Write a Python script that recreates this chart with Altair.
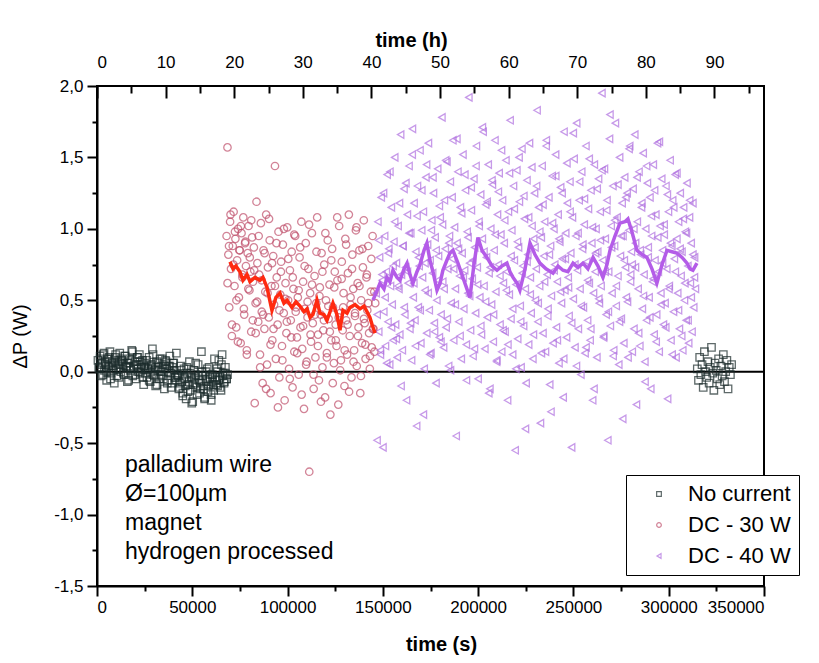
import altair as alt
import numpy as np
import pandas as pd

T_MAX = 350000
H_MAX = T_MAX / 3600.0
FONT = "Liberation Sans"

series_names = ["No current", "DC - 30 W", "DC - 40 W"]
series_colors = ["#1c2c2c", "#c0506c", "#b070e0"]
series_shapes = ["square", "circle", "triangle-left"]

# ---- No current, before heating (time span in s, values in W) ----
nc_left_span = [500, 68500]
nc_left = [0.08, 0.02, 0.11, -0.03, 0.06, 0.12, 0.01, 0.05, -0.06, 0.09, 0.03, 0.14, -0.01, 0.07, 0.04,
           -0.08, 0.10, 0.02, 0.06, -0.04, 0.13, 0.00, 0.08, 0.05, -0.02, 0.11, 0.03, -0.07, 0.06, 0.09,
           0.01, 0.15, -0.03, 0.04, 0.07, -0.05, 0.10, 0.02, 0.12, -0.01, 0.05, 0.08, -0.09, 0.03,
           0.06, -0.04, 0.02, 0.10, -0.07, 0.04, 0.16, -0.02, 0.01, -0.10, 0.07, 0.03, -0.05, 0.09, 0.00,
           -0.03, 0.05, -0.12, 0.08, 0.02, -0.06, 0.04, 0.11, -0.01, -0.08, 0.06, 0.01, -0.04, 0.13, -0.02,
           -0.03, -0.11, 0.04, -0.07, -0.15, 0.02, -0.05, -0.19, -0.01, -0.09, 0.07, -0.13, -0.04, -0.21,
           0.01, -0.08, -0.02, -0.16, 0.05, -0.06, -0.12, 0.14, -0.03, -0.10, -0.18, 0.00, -0.07, -0.14,
           0.03, -0.05, -0.20, -0.02, -0.09, 0.09,
           -0.06, 0.02, -0.10, 0.08, -0.04, -0.13, 0.12, -0.01, -0.07, 0.03, -0.05, -0.02]
nc_left_b_span = [1000, 68000]
nc_left_b = [0.03, 0.09, 0.05, -0.02, 0.13, 0.07, 0.00, 0.04, 0.10, -0.05, 0.06, 0.01, 0.08, 0.12, -0.03,
             0.05, 0.02, 0.09, 0.07, -0.01, 0.11, 0.04, 0.06, -0.06, 0.03, 0.08, 0.14, 0.02, -0.02, 0.05,
             0.10, 0.00, 0.07, 0.03, -0.04,
             0.04, -0.01, 0.08, 0.02, -0.06, 0.00, 0.05, 0.12, -0.03, 0.03, -0.09, 0.06, 0.01, -0.02, 0.09,
             -0.05, 0.02, 0.07, -0.08, 0.00, 0.04, -0.11, 0.03, 0.06, -0.04,
             -0.06, -0.02, -0.12, -0.08, 0.01, -0.17, -0.04, -0.10, 0.03, -0.14, -0.07, -0.01, -0.22, -0.09,
             -0.05, 0.06, -0.11, -0.03, -0.15, -0.08, 0.00, -0.12, -0.19, -0.06, 0.02, -0.10, -0.04, -0.16,
             -0.07, -0.13,
             -0.04, -0.09, 0.00, -0.06, -0.11, 0.05, -0.03, -0.08, -0.01, -0.05]

# ---- No current, after heating ----
nc_right_span = [315000, 333000]
nc_right = [0.02, -0.06, 0.10, -0.02, 0.05, -0.11, 0.14, 0.00, -0.04, 0.07, -0.08, 0.03, 0.17, -0.01,
            -0.13, 0.06, 0.01, -0.05, 0.09, -0.09, 0.04, -0.03, 0.12, -0.07, 0.00, 0.08, -0.12, 0.03,
            -0.02, 0.05]

# ---- DC - 30 W ----
dc30_span = [68000, 146000]
dc30 = [0.95, 1.57, 0.82, 0.45, 1.05, 0.72, 0.25, 0.88, 1.12, 0.60, 0.93, 0.31, 0.78, 1.00, 0.52, 0.85,
        0.20, 0.97, 0.66, 1.08, 0.40, 0.90, 0.74, 0.15, 0.83, 1.02, 0.57, 0.70, 0.28, 0.94, 0.63, 0.87,
        -0.22, 0.48, 1.19, 0.76, 0.35,
        0.68, 0.12, 1.04, 0.42, -0.08, 0.85, 0.30, 0.56, 1.10, 0.05, 0.73, 0.38, 0.92, -0.15, 0.60, 0.22,
        0.81, 0.47, 1.44, 0.09, 0.66, 0.33, 0.98, -0.04, 0.54, 0.77, 0.18, 0.89, 0.41, -0.20, 0.62, 0.27,
        1.01, 0.50, 0.02, 0.71, 0.36, 0.84, -0.11, 0.58, 0.14, 0.95, 0.45, 0.24,
        0.52, -0.02, 0.80, 0.31, 1.05, 0.16, 0.63, -0.26, 0.44, 0.90, 0.07, 0.38, 0.72, -0.70, 0.55, 0.21,
        0.97, 0.34, -0.12, 0.67, 0.10, 0.48, 1.08, 0.26, -0.06, 0.59, 0.40, 0.83, 0.03, 0.29, 0.75, -0.18,
        0.50, 0.13, 0.92, 0.37, 0.61, -0.30, 0.22, 0.86, 0.45, 0.06, 0.70, 0.33,
        0.18, 0.64, -0.23, 1.02, 0.41, 0.08, 0.77, 0.29, 0.55, -0.10, 0.93, 0.36, 0.12, 0.69, 1.10, 0.25,
        0.47, -0.04, 0.82, 0.58, 0.15, 0.39, 0.99, 0.04, 0.62, 0.31, 0.85, -0.15, 0.50, 0.20, 0.73, 1.06,
        0.34, 0.09, 0.66, 0.43, 0.88, 0.27, 0.11, 0.56, 0.17, 0.95, 0.30, 0.14, 0.48]
dc30_b_span = [68500, 145500]
dc30_b = [0.62, 0.88, 1.10, 0.33, 0.75, 0.98, 0.50, 0.21, 0.85, 1.02, 0.68, 0.44, 0.91, 0.12, 0.58, 0.80,
          1.06, 0.36, 0.71, 0.27, 0.49, 0.95, 0.03, 0.64, 0.40, 0.83, -0.12, 0.55, 1.07, 0.19, 0.76, 0.30,
          0.60, 0.90, -0.25, 0.43, 0.70, 0.08, 1.00, 0.51, 0.35, 0.79, -0.05, 0.24, 0.66, 0.96, 0.42, 0.13,
          0.57, 0.87, -0.16, 0.32, 0.74, 0.05, 0.49, 1.03, 0.26, 0.61, -0.02, 0.40, 0.84, 0.18, 0.53, -0.21,
          0.70, 0.36, 0.97, 0.10, 0.46, 0.28, 0.78, -0.08, 0.59, 0.22, 1.08, 0.38, 0.01, 0.65, 0.45, 0.15,
          0.89, 0.33, -0.14, 0.52, 0.72, 0.07, 0.41, 1.01, 0.25, 0.60, -0.03, 0.86, 0.37, 0.19, 0.68, 0.48,
          0.02, 0.79, 0.30, 0.56]

# ---- DC - 40 W ----
dc40_span = [146500, 314000]
dc40 = [0.55, -0.48, 1.05, 0.28, 0.80, 0.12, 1.22, 0.64, -0.53, 0.42, 0.95, 0.18, 0.70, 1.38, 0.35, 0.86,
        0.05, 0.60, 1.15, 0.47, 0.22, 0.91, 1.50, 0.33, 0.76, 0.10, 1.02, 0.58, 0.26, 1.66, 0.68, 0.15,
        0.88, 1.28, 0.40, 0.73, -0.20, 1.10,
        0.62, 1.44, 0.30, 0.97, 0.08, 1.70, 0.52, 1.18, 0.36, 0.84, -0.38, 1.30, 0.45, 0.74, 1.55, 0.20,
        0.99, 0.66, 1.12, 0.02, 0.57, 1.36, 0.27, 0.89, 1.60, 0.43, 0.78, 0.13, 1.06, 0.69, 1.25, 0.34,
        0.94, -0.08, 0.50, 1.42, 0.81, 0.24,
        1.08, 0.40, 1.78, 0.63, 0.17, 1.20, 0.86, 0.31, 1.47, 0.72, 0.04, 0.95, 1.33, 0.48, 0.79, 1.62,
        0.22, 1.01, 0.58, -0.45, 0.90, 1.40, 0.35, 0.67, 1.15, 0.09, 0.83, 1.52, 0.44, 0.71, 1.27, 0.19,
        0.98, 0.55, 1.92, 0.76, 0.29, 1.13,
        0.65, 0.11, 1.35, 0.87, 0.41, 1.58, 0.73, -0.05, 1.05, 0.52, 1.24, 0.26, 0.93, 1.68, 0.60, 0.16,
        1.17, 0.80, 0.38, 1.45, 0.69, -0.12, 1.00, 0.47, 1.31, 0.21, 0.85, 1.62, 0.56, 0.07, 1.10, 0.75,
        1.39, 0.33, 0.96, 0.14, 1.20, 0.62,
        0.90, 0.28, 1.48, 0.70, -0.20, 1.12, 0.54, 1.76, 0.37, 0.99, 0.12, 1.30, 0.78, -0.55, 0.61, 1.41,
        0.23, 0.87, 1.19, 0.46, 0.03, 1.56, 0.74, 0.32, 1.07, 0.58, -0.08, 1.34, 0.82, 0.19, 1.60, 0.66,
        0.41, 1.02, 0.09, 0.93, 1.25, 0.50,
        0.72, 1.83, 0.35, 1.15, 0.60, -0.36, 0.94, 1.44, 0.27, 0.81, 1.05, 0.14, 1.62, 0.68, 0.44, 1.22,
        -0.09, 0.88, 0.53, 1.37, 0.20, 1.00, 0.75, 1.52, 0.31, 0.63, 1.10, 0.06, 0.91, 1.29, 0.48, 0.79,
        -0.18, 1.68, 0.57, 0.97, 0.24, 1.18,
        0.66, 0.39, 1.33, 0.83, -0.53, 1.08, 0.51, 1.49, 0.17, 0.95, 1.74, 0.71, 0.30, 1.20, 0.58, -0.02,
        1.40, 0.86, 0.45, 1.03, 0.13, 1.58, 0.77, 0.36, 1.14, 0.62, 0.22, 1.27, 0.90, -0.20, 0.55, 1.45,
        0.70, 1.00, 0.10, 0.84, 1.35, 0.48,
        1.12, 0.60, 1.95, 0.78, 0.25, 1.42, 0.93, 0.40, 1.20, -0.48, 0.70, 1.63, 0.32, 1.02, 0.55, 1.30,
        0.15, 0.88, 1.74, 0.46, 1.08, 0.67, 0.05, 1.50, 0.81, 0.37, 1.18, 0.95, 0.20, 1.36, 0.73, 0.52,
        1.25, 0.10, 0.99, 1.58, 0.63, 0.84,
        0.75, 1.28, 0.30, 1.66, 0.90, -0.23, 1.05, 0.58, 1.40, 0.18, 0.82, 1.15, 0.44, 1.53, 0.68, 0.07,
        1.00, 0.36, 1.32, 0.87, 0.52, 1.22, -0.12, 0.95, 0.63, 1.45, 0.26, 0.78, 1.10, 0.40, 1.60, 0.70,
        0.14, 1.02, 0.55, 1.35, 0.85, 0.33,
        0.96, 0.48, 1.30, 0.72, -0.19, 1.12, 0.60, 1.48, 0.22, 0.88, 1.20, 0.42, 0.79, 1.38, 0.10, 0.93,
        0.55, 1.05, 0.30, 1.25, 0.67, 0.84, 0.15, 1.15, 0.50, 0.98, 0.36, 1.32, 0.74, 0.20, 1.08, 0.62,
        0.90, 0.28, 1.18, 0.45, 0.80, 0.58]
dc40_b_span = [147000, 313500]
dc40_b = [0.40, 0.92, 0.15, 0.68, 1.25, 0.52, 0.06, 0.83, 1.40, 0.31, 0.74, 1.05, 0.23, 0.60, 1.18, -0.10,
          0.88, 0.45, 1.32, 0.70, 0.97, 0.34, 1.52, 0.62, 0.18, 1.09, 0.80, 0.43, 1.27, -0.30, 0.76, 1.45,
          0.55, 0.12, 0.99, 1.36, 0.28, 0.85, 0.64, 1.16, 0.21, 1.03, 0.58, 1.48, 0.37, 0.90, 0.01, 1.22,
          0.72, 0.47, 1.63, 0.86, 0.25, 1.11, 0.66, 1.38, -0.06, 0.94, 0.53, 1.29, 0.78, 0.16, 1.44, 0.61,
          1.02, 0.32, 1.71, 0.84, 0.49, 1.19, -0.15, 0.73, 1.34, 0.40, 0.96, 0.08, 1.26, 0.67, 1.55, 0.29,
          1.06, 0.57, 0.19, 1.39, 0.81, 0.44, 1.14, 0.02, 0.91, 1.50, 0.35, 0.69, 1.23, -0.40, 0.77, 1.08,
          0.54, 1.43, 0.26, 0.87, 1.30, 0.48, 0.98, 0.13, 1.17, 0.63, 1.58, 0.39, 0.82, -0.28, 1.04, 0.71,
          1.37, 0.22, 0.93, 0.56, 1.25, 0.09, 0.79, 1.46, 0.59, 1.12, 0.34, 1.67, 0.75, 0.04, 0.97, 1.33,
          0.46, 0.89, 1.21, 0.17, 0.64, 1.49, 0.30, 1.01, -0.12, 0.83, 1.28, 0.51, 0.92, 1.41, 0.24, 0.70,
          1.13, 0.42, 1.80, 0.87, 0.11, 1.06, 0.60, 1.31, 0.35, 0.95, -0.33, 0.78, 1.22, 0.49, 1.56, 0.68,
          0.14, 1.00, 0.73, 1.36, 0.27, 0.85, 1.18, 0.53, -0.07, 1.44, 0.80, 0.38, 1.09, 0.65, 1.27, 0.21,
          0.94, 1.61, 0.47, 0.76, 1.03, 0.31, 1.24, 0.58, 0.90, 0.12, 1.15, 0.70, 1.39, 0.43, 0.86, 0.25,
          1.07, 0.62, 0.97, 0.36, 1.20, 0.52, 0.82, 0.66]

# ---- smoothed curves ----
red_t = [69800, 71400, 72900, 75000, 76600, 78700, 80300, 82900, 85500, 87100, 89200, 91800, 93900,
         96000, 98100, 99700, 102300, 104400, 106500, 108600, 110200, 111800, 113300, 115400, 117000,
         119100, 120700, 122300, 123800, 125900, 127500, 129100, 131200, 132700, 135400, 138000,
         140100, 141700, 143200, 144300, 145900]
red_v = [0.77, 0.72, 0.74, 0.70, 0.64, 0.68, 0.63, 0.66, 0.64, 0.66, 0.59, 0.43, 0.52, 0.55, 0.48, 0.50,
         0.45, 0.49, 0.46, 0.42, 0.44, 0.38, 0.40, 0.50, 0.41, 0.40, 0.36, 0.42, 0.48, 0.40, 0.29, 0.43,
         0.41, 0.45, 0.47, 0.44, 0.46, 0.42, 0.38, 0.33, 0.27]

pur_t = [144800, 146400, 148500, 150600, 152200, 153700, 155300, 157400, 159000, 161100, 162700,
         164200, 165800, 167900, 169500, 171600, 173100, 174700, 176300, 178400, 180000, 181500,
         183600, 185200, 186800, 189400, 192000, 194100, 195700, 197800, 199900, 202000, 204600,
         207300, 209900, 212500, 215100, 216700, 218300, 220400, 221900, 224600, 227200, 229800,
         232400, 235600, 239300, 241900, 244500, 247100, 249800, 252400, 255000, 257600, 260300,
         262900, 265500, 267600, 269200, 271800, 274400, 277000, 278600, 280700, 283300, 286000,
         288600, 291200, 293800, 296500, 299100, 301700, 304300, 307000, 309600, 311200, 312700, 314800]
pur_v = [0.50, 0.55, 0.62, 0.58, 0.66, 0.63, 0.71, 0.66, 0.64, 0.72, 0.76, 0.68, 0.62, 0.70, 0.75, 0.85,
         0.90, 0.78, 0.70, 0.57, 0.62, 0.71, 0.78, 0.83, 0.85, 0.76, 0.66, 0.58, 0.52, 0.75, 0.94, 0.85,
         0.80, 0.74, 0.71, 0.74, 0.76, 0.70, 0.66, 0.62, 0.57, 0.72, 0.90, 0.82, 0.76, 0.72, 0.69, 0.74,
         0.71, 0.70, 0.76, 0.73, 0.76, 0.72, 0.80, 0.74, 0.66, 0.75, 0.85, 0.95, 1.04, 1.05, 1.07, 0.98,
         0.85, 0.82, 0.80, 0.72, 0.62, 0.75, 0.85, 0.84, 0.83, 0.80, 0.76, 0.72, 0.71, 0.76]

# ---- axis ticks ----
x_major = list(range(0, 350001, 50000))
x_minor = list(range(25000, 350000, 50000))
y_major = [-1.5, -1.0, -0.5, 0.0, 0.5, 1.0, 1.5, 2.0]
y_minor = [-1.25, -0.75, -0.25, 0.25, 0.75, 1.25, 1.75]
h_major = list(range(0, 91, 10))
h_minor = list(range(5, 96, 10))

note_lines = ["palladium wire", "Ø=100µm", "magnet", "hydrogen processed"]


def sampled(span, vals, name):
    t = np.linspace(span[0], span[1], len(vals))
    return pd.DataFrame({"t": t, "dp": vals, "series": name})


pts = pd.concat([
    sampled(nc_left_span, nc_left, "No current"),
    sampled(nc_left_b_span, nc_left_b, "No current"),
    sampled(nc_right_span, nc_right, "No current"),
    sampled(dc30_span, dc30, "DC - 30 W"),
    sampled(dc30_b_span, dc30_b, "DC - 30 W"),
    sampled(dc40_span, dc40, "DC - 40 W"),
    sampled(dc40_b_span, dc40_b, "DC - 40 W"),
], ignore_index=True)

xs = alt.Scale(domain=[0, T_MAX], nice=False, zero=False)
ys = alt.Scale(domain=[-1.5, 2.0], nice=False, zero=False)
hs = alt.Scale(domain=[0, H_MAX], nice=False, zero=False)

common_axis = dict(grid=False, labelFont=FONT, labelFontSize=17, labelColor="black",
                   tickColor="black", tickWidth=2, titleFont=FONT, titleColor="black")

bottom_axis = alt.Axis(orient="bottom", values=x_major, format="d", tickSize=10, labelPadding=3,
                       domain=True, domainColor="black", domainWidth=2,
                       title="time (s)", titleFontSize=20, titleFontWeight="bold", titlePadding=19,
                       titleX=344, **common_axis)
left_axis = alt.Axis(orient="left", values=y_major, tickSize=10, labelPadding=4,
                     labelExpr="replace(replace(format(datum.value, '.1f'), '.', ','), '\u2212', '-')",
                     domain=True, domainColor="black", domainWidth=2,
                     title="ΔP (W)", titleFontSize=20, titleFontWeight="normal", titlePadding=23,
                     **common_axis)

legend_kw = dict(orient="none", legendX=529, legendY=389, title=None, fillColor="white",
                 strokeColor="black", padding=8, symbolSize=22, symbolStrokeWidth=1.2,
                 symbolOffset=14, labelOffset=18, labelFont=FONT, labelFontSize=22,
                 labelColor="black", rowPadding=9)

zero = alt.Chart(pd.DataFrame({"y": [0.0]})).mark_rule(color="black", strokeWidth=2).encode(
    y=alt.Y("y:Q", scale=ys, axis=None))

points = alt.Chart(pts).mark_point(filled=False, size=55, strokeWidth=1.3).encode(
    x=alt.X("t:Q", scale=xs, axis=bottom_axis),
    y=alt.Y("dp:Q", scale=ys, axis=left_axis),
    color=alt.Color("series:N", scale=alt.Scale(domain=series_names, range=series_colors),
                    legend=alt.Legend(**legend_kw)),
    shape=alt.Shape("series:N", scale=alt.Scale(domain=series_names, range=series_shapes),
                    legend=alt.Legend(**legend_kw)),
)

red_line = alt.Chart(pd.DataFrame({"t": red_t, "v": red_v})).mark_line(
    color="#ff2a10", strokeWidth=3.5).encode(
    x=alt.X("t:Q", scale=xs, axis=None), y=alt.Y("v:Q", scale=ys, axis=None))

pur_line = alt.Chart(pd.DataFrame({"t": pur_t, "v": pur_v})).mark_line(
    color="#b45ce8", strokeWidth=3.5).encode(
    x=alt.X("t:Q", scale=xs, axis=None), y=alt.Y("v:Q", scale=ys, axis=None))

note = alt.Chart(pd.DataFrame({"t": [14700], "v": [-0.575], "txt": ["\n".join(note_lines)]})).mark_text(
    align="left", baseline="top", font=FONT, fontSize=23, lineHeight=29, lineBreak="\n",
    color="black").encode(
    x=alt.X("t:Q", scale=xs, axis=None), y=alt.Y("v:Q", scale=ys, axis=None), text="txt:N")

x_minor_layer = alt.Chart(pd.DataFrame({"t": x_minor})).mark_tick(opacity=0).encode(
    x=alt.X("t:Q", scale=xs, axis=alt.Axis(orient="bottom", values=x_minor, labels=False,
                                           tickSize=5, domain=False, title=None, **common_axis)))

y_minor_layer = alt.Chart(pd.DataFrame({"v": y_minor})).mark_tick(opacity=0).encode(
    y=alt.Y("v:Q", scale=ys, axis=alt.Axis(orient="left", values=y_minor, labels=False,
                                           tickSize=5, domain=False, title=None, **common_axis)))

top_major = alt.Chart(pd.DataFrame({"h": h_major})).mark_tick(opacity=0).encode(
    x=alt.X("h:Q", scale=hs, axis=alt.Axis(orient="top", values=h_major, format="d", tickSize=12,
                                           offset=-12, labelPadding=15, domain=False,
                                           title="time (h)", titleFontSize=20,
                                           titleFontWeight="bold", titlePadding=3, titleX=314,
                                           **common_axis)))

top_minor = alt.Chart(pd.DataFrame({"h": h_minor})).mark_tick(opacity=0).encode(
    x=alt.X("h:Q", scale=hs, axis=alt.Axis(orient="top", values=h_minor, labels=False, tickSize=7,
                                           offset=-7, domain=False, title=None, **common_axis)))

chart = alt.layer(
    zero, points, red_line, pur_line, note, x_minor_layer, y_minor_layer, top_major, top_minor
).resolve_scale(
    x="independent", y="independent"
).properties(
    width=667, height=500,
    padding={"left": 89, "top": 78, "right": 46, "bottom": 69},
    autosize=alt.AutoSizeParams(type="none"),
).configure_view(
    stroke="black", strokeWidth=2
)

chart.save("out.html", embed_options={"renderer": "svg", "actions": False})
